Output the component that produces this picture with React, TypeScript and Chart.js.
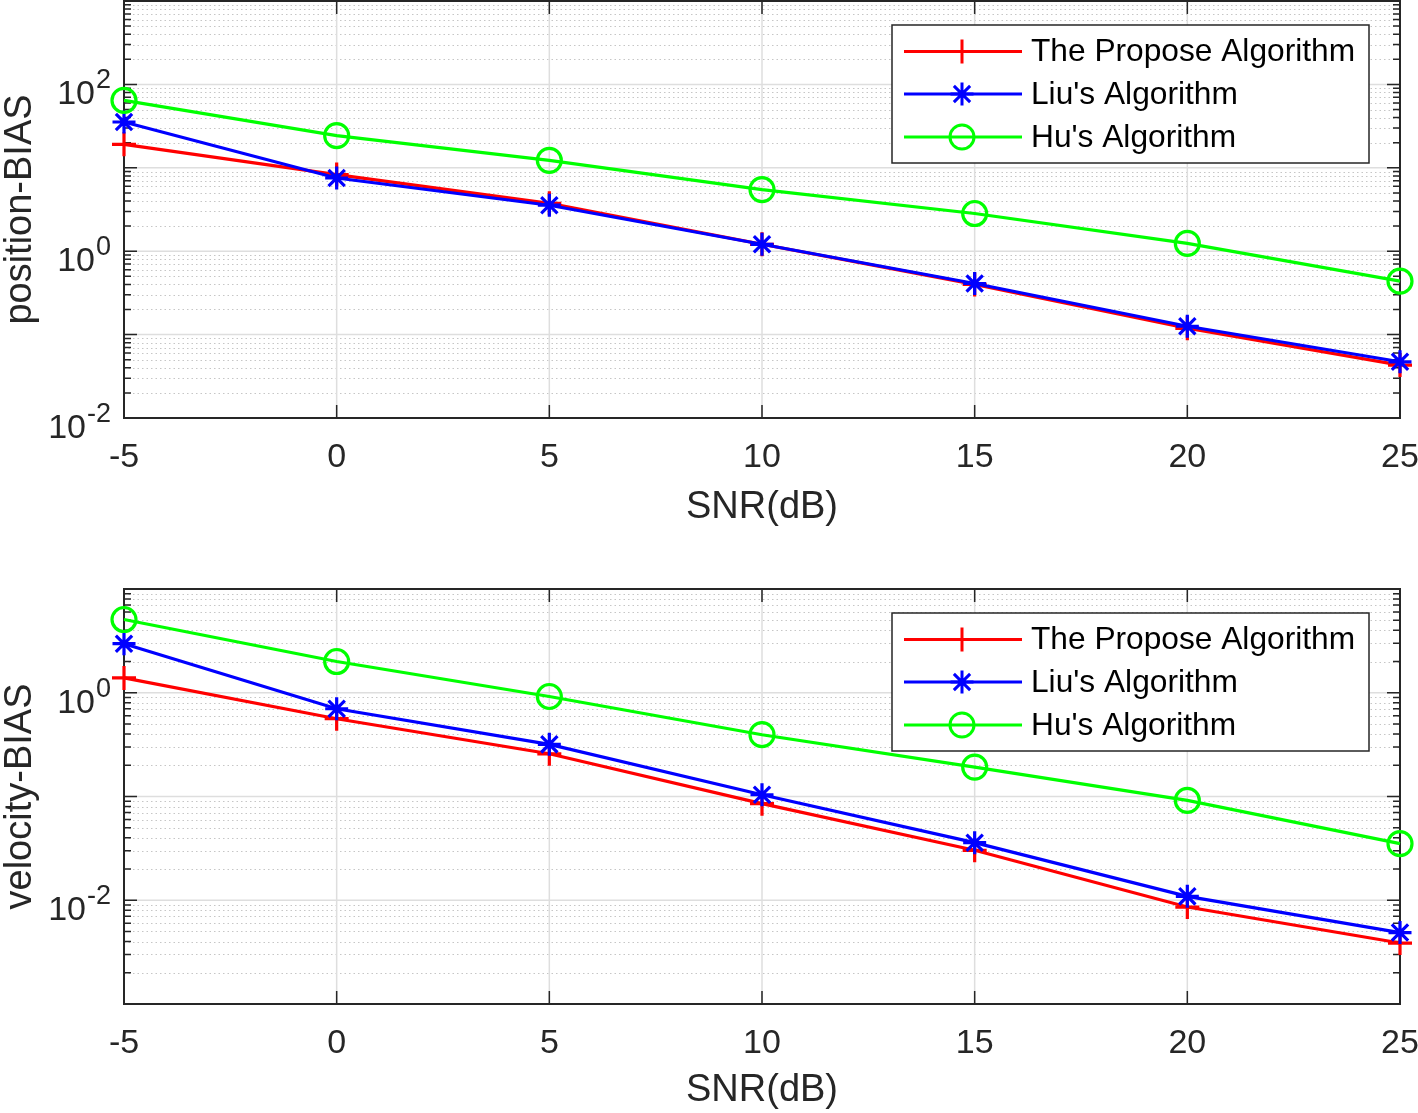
import React, { useEffect, useRef } from 'react';
import { Chart, registerables } from 'chart.js';

Chart.register(...registerables);

// ---------------- data ----------------
const snr = [-5, 0, 5, 10, 15, 20, 25];
const xTicks = [-5, 0, 5, 10, 15, 20, 25];
const seriesNames = ['The Propose Algorithm', "Liu's Algorithm", "Hu's Algorithm"];

const posPropose = [19.1, 8.3, 3.75, 1.21, 0.4, 0.119, 0.0431];
const posLiu = [35.4, 7.55, 3.56, 1.21, 0.41, 0.126, 0.0472];
const posHu = [64.3, 24.3, 12.3, 5.48, 2.83, 1.24, 0.437];

const velPropose = [1.39, 0.562, 0.258, 0.0853, 0.0303, 0.0086, 0.00387];
const velLiu = [2.97, 0.701, 0.318, 0.104, 0.0359, 0.0109, 0.00488];
const velHu = [5.08, 2.0, 0.92, 0.394, 0.192, 0.0917, 0.0351];

const posDecadeRange = [-2, 3];
const posLabelExps = [-2, 0, 2];
const velDecadeRange = [-3, 1];
const velLabelExps = [-2, 0];

// ---------------- styles ----------------
const FONT = '"Liberation Sans", Arial, Helvetica, sans-serif';
const AXIS = '#262626';
const COLORS = ['#ff0000', '#0000ff', '#00ff00'];
const MARKERS = ['cross', 'star', 'circle'];
const RADII = [12, 11.5, 12];
const ORDERS = [3, 2, 1];

function drawMarker(ctx: CanvasRenderingContext2D, style: string, x: number, y: number, r: number) {
  ctx.beginPath();
  if (style === 'circle') {
    ctx.arc(x, y, r, 0, Math.PI * 2);
  } else {
    ctx.moveTo(x - r, y);
    ctx.lineTo(x + r, y);
    ctx.moveTo(x, y - r);
    ctx.lineTo(x, y + r);
    if (style === 'star') {
      const d = r * Math.SQRT1_2;
      ctx.moveTo(x - d, y - d);
      ctx.lineTo(x + d, y + d);
      ctx.moveTo(x - d, y + d);
      ctx.lineTo(x + d, y - d);
    }
  }
  ctx.stroke();
}

function makeAxesPlugin(minExp: number, maxExp: number, labelExps: number[]) {
  return {
    id: 'matlabAxes',
    beforeDatasetsDraw(chart: any) {
      const { ctx, chartArea: a, scales } = chart;
      const x = scales.x;
      const y = scales.y;
      ctx.save();
      // minor grid (dotted)
      ctx.lineWidth = 1;
      ctx.strokeStyle = '#c6c6c6';
      ctx.setLineDash([1.5, 3]);
      ctx.beginPath();
      for (let e = minExp; e < maxExp; e++) {
        for (let k = 2; k <= 9; k++) {
          const py = Math.round(y.getPixelForValue(k * Math.pow(10, e))) + 0.5;
          ctx.moveTo(a.left, py);
          ctx.lineTo(a.right, py);
        }
      }
      ctx.stroke();
      // major grid
      ctx.setLineDash([]);
      ctx.strokeStyle = '#dedede';
      ctx.lineWidth = 1.5;
      ctx.beginPath();
      for (let e = minExp + 1; e < maxExp; e++) {
        const py = y.getPixelForValue(Math.pow(10, e));
        ctx.moveTo(a.left, py);
        ctx.lineTo(a.right, py);
      }
      for (const t of xTicks) {
        const px = x.getPixelForValue(t);
        ctx.moveTo(px, a.top);
        ctx.lineTo(px, a.bottom);
      }
      ctx.stroke();
      // tick marks
      ctx.strokeStyle = AXIS;
      ctx.lineWidth = 1.5;
      ctx.beginPath();
      for (const t of xTicks) {
        const px = x.getPixelForValue(t);
        ctx.moveTo(px, a.bottom);
        ctx.lineTo(px, a.bottom - 13);
        ctx.moveTo(px, a.top);
        ctx.lineTo(px, a.top + 13);
      }
      for (let e = minExp; e <= maxExp; e++) {
        for (let k = 1; k <= 9; k++) {
          if (e === maxExp && k > 1) break;
          const len = k === 1 ? 13 : 7;
          const py = y.getPixelForValue(k * Math.pow(10, e));
          ctx.moveTo(a.left, py);
          ctx.lineTo(a.left + len, py);
          ctx.moveTo(a.right, py);
          ctx.lineTo(a.right - len, py);
        }
      }
      ctx.stroke();
      // box
      ctx.lineWidth = 2;
      ctx.strokeRect(a.left, a.top, a.right - a.left, a.bottom - a.top);
      // y tick labels 10^e
      ctx.fillStyle = AXIS;
      ctx.textAlign = 'right';
      ctx.textBaseline = 'alphabetic';
      for (const e of labelExps) {
        const py = y.getPixelForValue(Math.pow(10, e));
        const expStr = String(e);
        ctx.font = `27px ${FONT}`;
        const w = ctx.measureText(expStr).width;
        const xr = a.left - 13;
        ctx.fillText(expStr, xr, py + 4);
        ctx.font = `34px ${FONT}`;
        ctx.fillText('10', xr - w - 1, py + 20);
      }
      ctx.restore();
    },
    afterDatasetsDraw(chart: any) {
      const { ctx, chartArea: a } = chart;
      ctx.save();
      const bw = 477;
      const bh = 138;
      const bx = a.right - 31 - bw;
      const by = a.top + 24;
      ctx.fillStyle = '#ffffff';
      ctx.fillRect(bx, by, bw, bh);
      ctx.strokeStyle = AXIS;
      ctx.lineWidth = 1.5;
      ctx.strokeRect(bx, by, bw, bh);
      const rows = [26.5, 69, 112];
      chart.data.datasets.forEach((ds: any, i: number) => {
        const ry = by + rows[i];
        ctx.strokeStyle = ds.borderColor;
        ctx.lineWidth = 3;
        ctx.beginPath();
        ctx.moveTo(bx + 12, ry);
        ctx.lineTo(bx + 130, ry);
        ctx.stroke();
        drawMarker(ctx, ds.pointStyle, bx + 70, ry, ds.pointRadius);
        ctx.fillStyle = '#000000';
        ctx.font = `31.7px ${FONT}`;
        ctx.textAlign = 'left';
        ctx.textBaseline = 'middle';
        ctx.fillText(ds.label, bx + 139, ry + 1);
      });
      ctx.restore();
    },
  };
}

function makeDatasets(values: number[][]) {
  return values.map((vals, i) => ({
    label: seriesNames[i],
    data: snr.map((s, j) => ({ x: s, y: vals[j] })),
    borderColor: COLORS[i],
    backgroundColor: COLORS[i],
    borderWidth: 3.2,
    pointStyle: MARKERS[i],
    pointRadius: RADII[i],
    pointHoverRadius: RADII[i],
    pointBorderWidth: 3.2,
    pointBorderColor: COLORS[i],
    pointBackgroundColor: MARKERS[i] === 'circle' ? 'rgba(0,0,0,0)' : COLORS[i],
    tension: 0,
    fill: false,
    order: ORDERS[i],
    clip: false,
  }));
}

type PanelProps = {
  height: number;
  padTop: number;
  xAxisHeight: number;
  yTitle: string;
  range: number[];
  labelExps: number[];
  values: number[][];
};

function Panel({ height, padTop, xAxisHeight, yTitle, range, labelExps, values }: PanelProps) {
  const ref = useRef<HTMLCanvasElement | null>(null);
  useEffect(() => {
    if (!ref.current) return;
    const chart = new Chart(ref.current, {
      type: 'line',
      data: { datasets: makeDatasets(values) as any },
      options: {
        animation: false,
        responsive: false,
        devicePixelRatio: 1,
        layout: { autoPadding: false, padding: { top: padTop, right: 18, left: 0, bottom: 0 } },
        plugins: { legend: { display: false }, tooltip: { enabled: false } },
        scales: {
          x: {
            type: 'linear',
            min: -5,
            max: 25,
            afterBuildTicks: (s: any) => {
              s.ticks = xTicks.map((v) => ({ value: v }));
            },
            afterFit: (s: any) => {
              s.height = xAxisHeight;
              s.paddingLeft = 0;
              s.paddingRight = 0;
            },
            grid: { display: false, drawTicks: false },
            border: { display: false },
            ticks: {
              color: AXIS,
              font: { family: FONT, size: 34 },
              padding: 19,
              maxRotation: 0,
              autoSkip: false,
            },
            title: {
              display: true,
              text: 'SNR(dB)',
              color: AXIS,
              font: { family: FONT, size: 38 },
              padding: { top: 0, bottom: 0 },
            },
          },
          y: {
            type: 'logarithmic',
            min: Math.pow(10, range[0]),
            max: Math.pow(10, range[1]),
            afterFit: (s: any) => {
              s.width = 124;
              s.paddingTop = 0;
              s.paddingBottom = 0;
            },
            grid: { display: false, drawTicks: false },
            border: { display: false },
            ticks: { display: false },
            title: {
              display: true,
              text: yTitle,
              color: AXIS,
              font: { family: FONT, size: 38 },
              padding: { top: -2, bottom: 0 },
            },
          },
        },
      } as any,
      plugins: [makeAxesPlugin(range[0], range[1], labelExps) as any],
    });
    return () => chart.destroy();
  }, []);
  return <canvas ref={ref} width={1418} height={height} style={{ display: 'block', width: 1418, height }} />;
}

export default function App() {
  return (
    <div style={{ position: 'absolute', left: 0, top: 0, width: 1418, height: 1113, background: '#ffffff' }}>
      <Panel
        height={530}
        padTop={1}
        xAxisHeight={112}
        yTitle="position-BIAS"
        range={posDecadeRange}
        labelExps={posLabelExps}
        values={[posPropose, posLiu, posHu]}
      />
      <Panel
        height={583}
        padTop={59}
        xAxisHeight={109}
        yTitle="velocity-BIAS"
        range={velDecadeRange}
        labelExps={velLabelExps}
        values={[velPropose, velLiu, velHu]}
      />
    </div>
  );
}
